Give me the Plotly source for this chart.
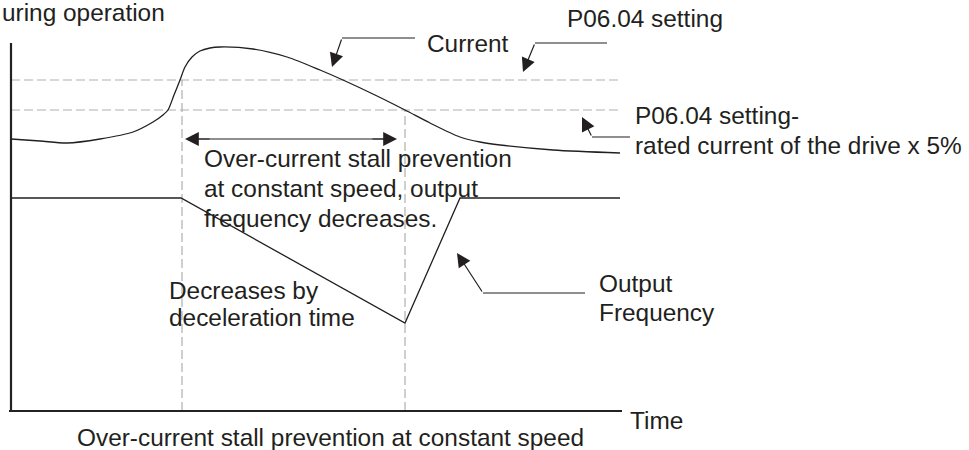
import plotly.graph_objects as go

# Curve data (time, level) - origin at the axes corner
current_t = [0, 29, 56, 89, 122, 142, 152, 157, 163, 169, 174, 181, 189, 199, 209, 242, 276, 309, 332, 364, 394, 419, 449, 469, 489, 542, 609]
current_v = [272, 270, 268, 272, 279, 289, 296, 301, 316, 331, 344, 354, 360, 363, 364, 362, 354, 341, 331, 316, 301, 288, 274, 269, 266, 261, 258]

freq_t = [0, 170, 394, 449, 609]
freq_v = [213, 213, 88, 213, 213]

setting_level = 331        # P06.04 setting
setting_minus_level = 301  # P06.04 setting - rated current x 5%
t_stall_start = 171
t_stall_end = 394
t_end = 611

FONT = "Liberation Sans, Arial, sans-serif"
INK = "#231f20"
DASH = "#b0b0b0"

fig = go.Figure()

# dashed guide lines
for lvl in [setting_level, setting_minus_level]:
    fig.add_trace(go.Scatter(x=[0, t_end], y=[lvl, lvl], mode="lines",
                             line=dict(color=DASH, width=1.2, dash="9px,4px"), hoverinfo="skip"))
fig.add_trace(go.Scatter(x=[t_stall_start, t_stall_start], y=[0, setting_level], mode="lines",
                         line=dict(color=DASH, width=1.2, dash="9px,4px"), hoverinfo="skip"))
fig.add_trace(go.Scatter(x=[t_stall_end, t_stall_end], y=[0, setting_minus_level], mode="lines",
                         line=dict(color=DASH, width=1.2, dash="9px,4px"), hoverinfo="skip"))

# current + output frequency
fig.add_trace(go.Scatter(x=current_t, y=current_v, mode="lines",
                         line=dict(color=INK, width=1.3, shape="spline", smoothing=0.8), hoverinfo="skip"))
fig.add_trace(go.Scatter(x=freq_t, y=freq_v, mode="lines",
                         line=dict(color=INK, width=1.3), hoverinfo="skip"))

# axes
fig.add_trace(go.Scatter(x=[0, 0], y=[0, 368], mode="lines", line=dict(color="#222", width=2.2), hoverinfo="skip"))
fig.add_trace(go.Scatter(x=[-2, t_end], y=[0, 0], mode="lines", line=dict(color="#222", width=2.2), hoverinfo="skip"))

# leader lines (horizontal parts) + double arrow shaft
leaders = [([404, 331], [373, 373]), ([596, 524], [368, 368]), ([619, 581], [274, 274]),
           ([574, 472], [118, 118]), ([178, 382], [272, 272])]
for lx, ly in leaders:
    fig.add_trace(go.Scatter(x=lx, y=ly, mode="lines", line=dict(color=INK, width=1.2), hoverinfo="skip"))

# arrow heads (diagonal parts)
arrows = [(321, 344, 331, 373), (512, 339, 524, 368), (571, 294, 581, 274), (446, 158, 472, 118),
          (174, 272, 200, 272), (386, 272, 360, 272)]
for x, y, ax, ay in arrows:
    fig.add_annotation(x=x, y=y, ax=ax, ay=ay, xref="x", yref="y", axref="x", ayref="y",
                       text="", showarrow=True, arrowhead=2, arrowsize=2.3, arrowwidth=1.2, arrowcolor=INK)

labels = [
    ("uring operation", -11, 399),
    ("Current", 414, 368),
    ("P06.04 setting", 554, 393),
    ("P06.04 setting-", 622, 296),
    ("rated current of the drive x 5%", 622, 266),
    ("Over-current stall prevention", 191, 253),
    ("at constant speed, output", 191, 223),
    ("frequency decreases.", 191, 193),
    ("Decreases by", 156, 121),
    ("deceleration time", 156, 94),
    ("Output", 586, 128),
    ("Frequency", 586, 99),
    ("Time", 617, -9),
]
for txt, x, y in labels:
    fig.add_annotation(x=x, y=y, xref="x", yref="y", text=txt, showarrow=False,
                       xanchor="left", yanchor="middle", font=dict(family=FONT, size=24.4, color=INK))

fig.add_annotation(x=319, y=-26, xref="x", yref="y", text="Over-current stall prevention at constant speed",
                   showarrow=False, xanchor="center", yanchor="middle", font=dict(family=FONT, size=24.4, color=INK))

fig.update_layout(
    width=969, height=450,
    margin=dict(l=0, r=0, t=0, b=0),
    paper_bgcolor="white", plot_bgcolor="white",
    showlegend=False,
    xaxis=dict(range=[-11, 958], visible=False, fixedrange=True),
    yaxis=dict(range=[-39, 411], visible=False, fixedrange=True),
)

fig.write_html("out.html", config={"displayModeBar": False},
               post_script="document.body.style.margin='0px';")
